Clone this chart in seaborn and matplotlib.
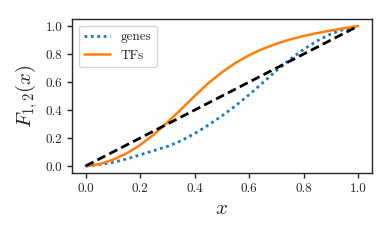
import numpy as np
import seaborn as sns
import matplotlib
matplotlib.use('Agg')
import matplotlib.pyplot as plt

# values
x_grid = [0.00, 0.05, 0.10, 0.15, 0.20, 0.25, 0.30, 0.35, 0.40, 0.45, 0.50,
          0.55, 0.60, 0.65, 0.70, 0.75, 0.80, 0.85, 0.90, 0.95, 1.00]
genes = [0.000, 0.010, 0.026, 0.050, 0.080, 0.110, 0.140, 0.180, 0.232, 0.292, 0.358,
         0.430, 0.510, 0.595, 0.682, 0.762, 0.833, 0.895, 0.944, 0.978, 1.000]
tfs = [0.000, 0.013, 0.045, 0.090, 0.150, 0.225, 0.312, 0.405, 0.500, 0.592, 0.670,
       0.737, 0.792, 0.837, 0.874, 0.904, 0.929, 0.950, 0.968, 0.985, 1.000]
diag_x = [0.0, 1.0]
diag_y = [0.0, 1.0]

sns.set_style('ticks')
plt.rcParams['font.family'] = 'serif'
plt.rcParams['font.serif'] = ['cmr10', 'DejaVu Serif']
plt.rcParams['mathtext.fontset'] = 'cm'
plt.rcParams['axes.formatter.use_mathtext'] = True

fig = plt.figure(figsize=(3.91, 2.41), dpi=100)
ax = fig.add_axes([0.184, 0.282, 0.767, 0.639])

sns.lineplot(x=x_grid, y=genes, ax=ax, color='tab:blue', linestyle=(0, (1, 1.3)), linewidth=2, label='genes')
sns.lineplot(x=x_grid, y=tfs, ax=ax, color='tab:orange', linestyle='-', linewidth=1.8, label='TFs')
sns.lineplot(x=diag_x, y=diag_y, ax=ax, color='black', linestyle=(0, (3.2, 1.6)), linewidth=2)

ax.set_xlim(-0.05, 1.05)
ax.set_ylim(-0.05, 1.05)
ax.set_xticks([0.0, 0.2, 0.4, 0.6, 0.8, 1.0])
ax.set_yticks([0.0, 0.2, 0.4, 0.6, 0.8, 1.0])
ax.set_xticklabels(['0.0', '0.2', '0.4', '0.6', '0.8', '1.0'])
ax.set_yticklabels(['0.0', '0.2', '0.4', '0.6', '0.8', '1.0'])
ax.tick_params(labelsize=9.5, length=3.5, width=1, colors='.15')
for s in ax.spines.values():
    s.set_linewidth(1)
    s.set_color('.15')
ax.set_xlabel('$x$', fontsize=15)
ax.set_ylabel('$F_{1,2}(x)$', fontsize=15)
ax.legend(loc='upper left', fontsize=9.5)

fig.savefig('out.png', dpi=100)
plt.close(fig)
